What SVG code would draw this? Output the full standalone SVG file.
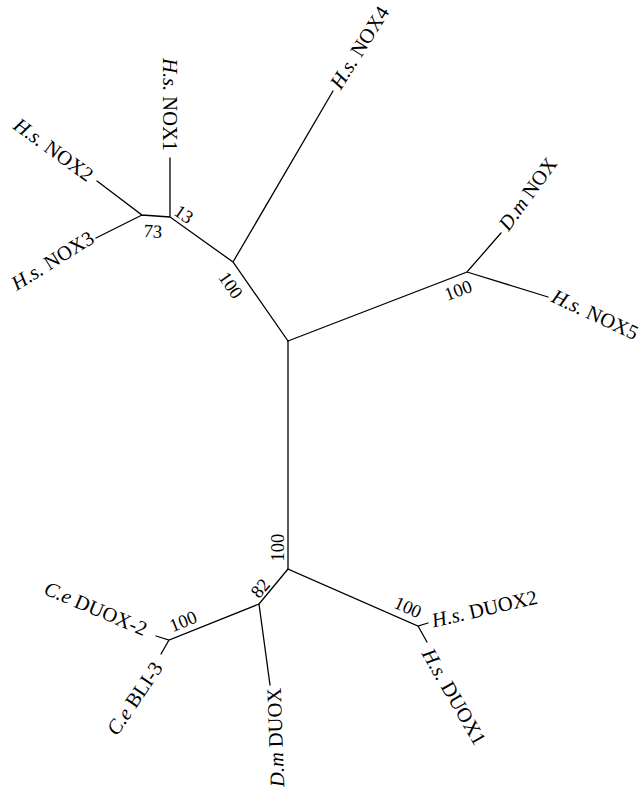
<svg xmlns="http://www.w3.org/2000/svg" width="643" height="790" viewBox="0 0 643 790">
<style>
.br{stroke:#000;stroke-width:1.3;fill:none;stroke-linecap:round}
.lb{font-family:"Liberation Serif",serif;font-size:20.5px;fill:#000}
.bs{font-family:"Liberation Serif",serif;font-size:18.5px;fill:#000;text-anchor:middle}
.i{font-style:italic}
</style>
<rect width="643" height="790" fill="#fff"/>
<g id="connectors">
<path class="br" d="M288,341 L233,262 L170,217 L170,158 M170,217 L142,215 L97,181 M142,215 L96,238 M233,262 L333,91"/>
<path class="br" d="M288,341 L467,272 L501,233 M467,272 L548,297"/>
<path class="br" d="M288,341 L288,569 L418,626 L428,623 M418,626 L427,642"/>
<path class="br" d="M288,569 L259,604 L270,685 M259,604 L169,640 L156,636 M169,640 L161,654"/>
</g>
<g id="nox1"><text class="lb" text-anchor="end" dy="0.33em" transform="translate(170,151) rotate(90)"><tspan class="i">H.s.</tspan> NOX1</text></g>
<g id="nox2"><text class="lb" text-anchor="end" dy="0.33em" transform="translate(91,177) rotate(36)"><tspan class="i">H.s.</tspan> NOX2</text></g>
<g id="nox3"><text class="lb" text-anchor="end" dy="0.33em" transform="translate(92,236) rotate(-32)"><tspan class="i">H.s.</tspan> NOX3</text></g>
<g id="nox4"><text class="lb" text-anchor="start" dy="0.33em" transform="translate(335,87) rotate(-58)"><tspan class="i">H.s.</tspan> NOX4</text></g>
<g id="dmnox"><text class="lb" text-anchor="start" dy="0.33em" transform="translate(503,228) rotate(-54)"><tspan class="i">D.m</tspan> NOX</text></g>
<g id="nox5"><text class="lb" text-anchor="start" dy="0.33em" transform="translate(553,295) rotate(25)"><tspan class="i">H.s.</tspan> NOX5</text></g>
<g id="duox2"><text class="lb" text-anchor="start" dy="0.33em" transform="translate(432,621) rotate(-13)"><tspan class="i">H.s.</tspan> DUOX2</text></g>
<g id="duox1"><text class="lb" text-anchor="start" dy="0.33em" transform="translate(427,650) rotate(60)"><tspan class="i">H.s.</tspan> DUOX1</text></g>
<g id="dmduox"><text class="lb" text-anchor="end" dy="0.33em" transform="translate(274,688) rotate(-92)"><tspan class="i">D.m</tspan> DUOX</text></g>
<g id="ceduox2"><text class="lb" text-anchor="end" dy="0.33em" transform="translate(146,630) rotate(23)"><tspan class="i">C.e</tspan> DUOX-2</text></g>
<g id="cebli3"><text class="lb" text-anchor="end" dy="0.33em" transform="translate(158,664) rotate(-56)"><tspan class="i">C.e</tspan> BLI-3</text></g>
<g id="bs13"><text class="bs" dy="0.35em" transform="translate(184,214) rotate(35)">13</text></g>
<g id="bs73"><text class="bs" dy="0.35em" transform="translate(153,231) rotate(4)">73</text></g>
<g id="bsA"><text class="bs" dy="0.35em" transform="translate(231,285) rotate(55)">100</text></g>
<g id="bsE"><text class="bs" dy="0.35em" transform="translate(458,290) rotate(-21)">100</text></g>
<g id="bsC"><text class="bs" dy="0.35em" transform="translate(277.5,547.5) rotate(-90)">100</text></g>
<g id="bs82"><text class="bs" dy="0.35em" transform="translate(260,588) rotate(-50)">82</text></g>
<g id="bsI"><text class="bs" dy="0.35em" transform="translate(183,621) rotate(-22)">100</text></g>
<g id="bsG"><text class="bs" dy="0.35em" transform="translate(408,607) rotate(24)">100</text></g>
</svg>
